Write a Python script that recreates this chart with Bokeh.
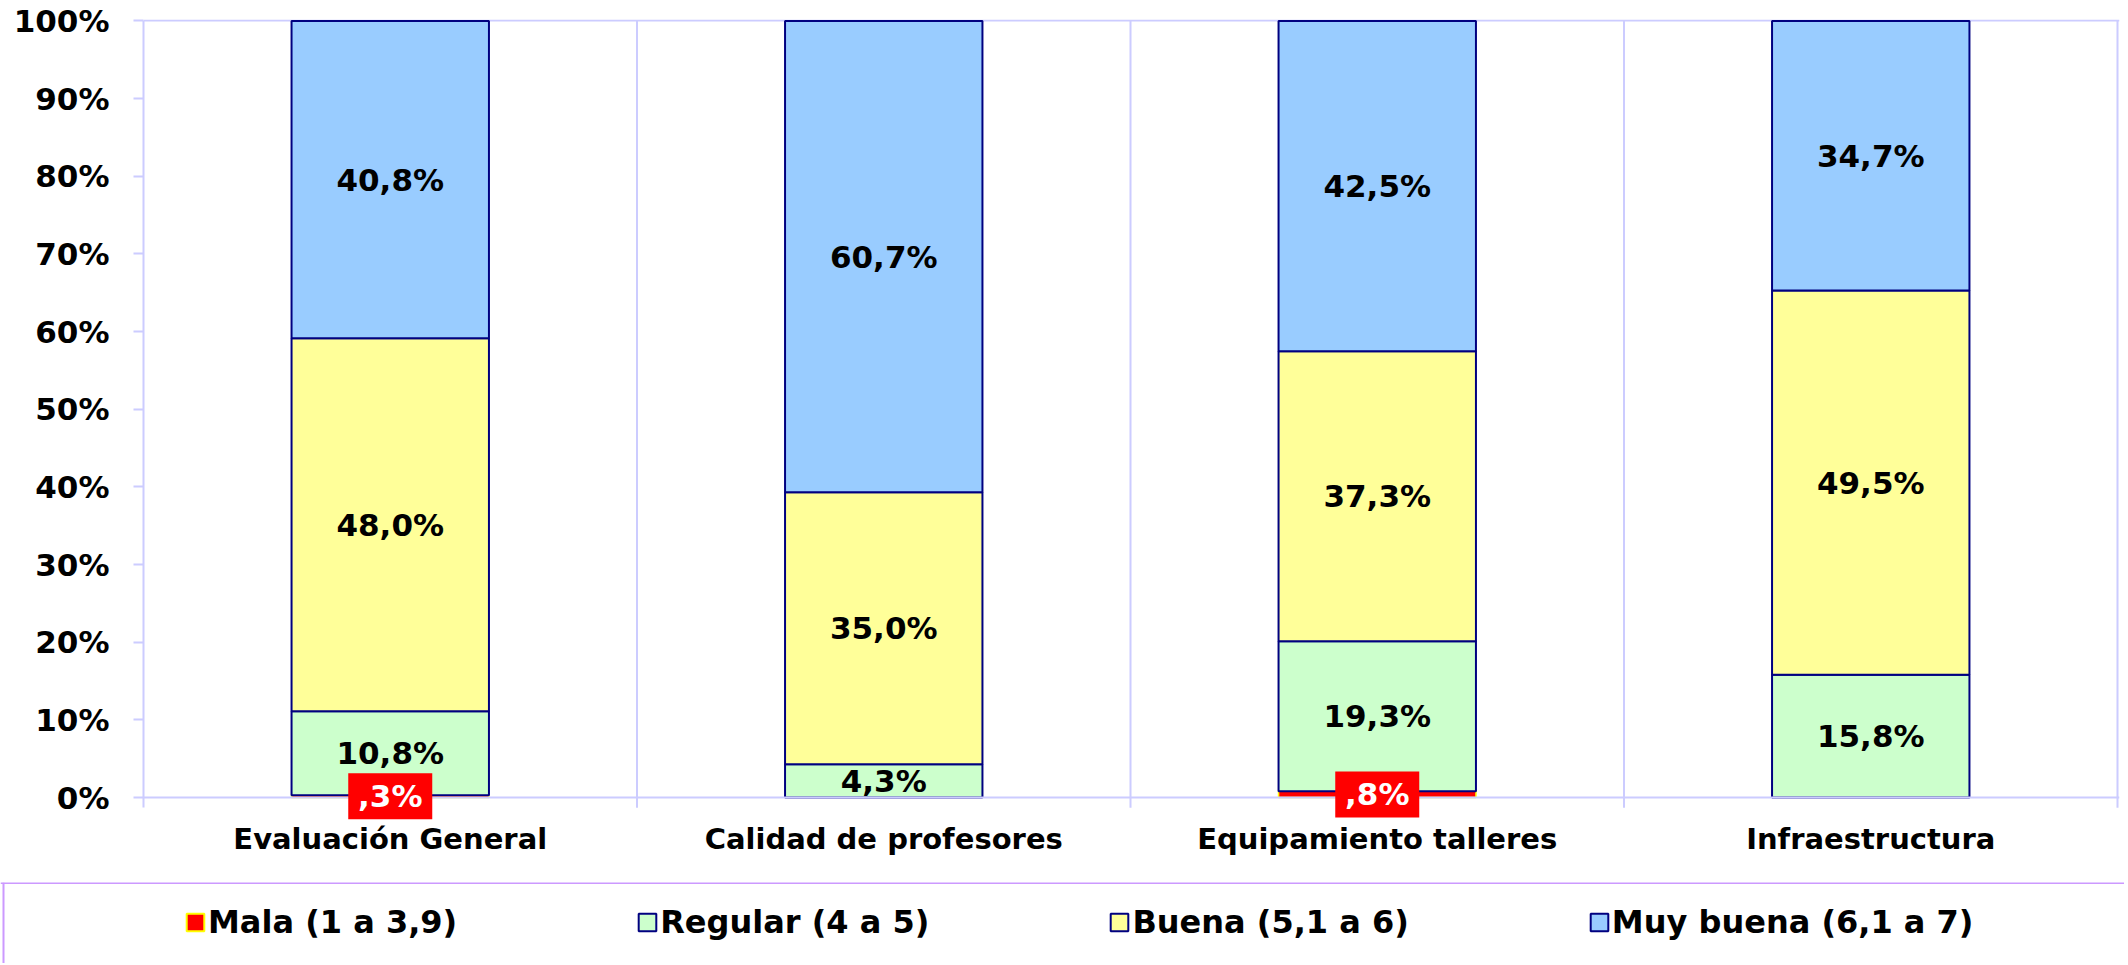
from bokeh.plotting import figure
from bokeh.models import (ColumnDataSource, Range1d, FixedTicker, PrintfTickFormatter,
                          Legend, LegendItem, Span)
from bokeh.layouts import column
from bokeh.embed import file_html
from bokeh.resources import INLINE
from bokeh.core.properties import value

# ---------------- data ----------------
categories = ["Evaluación General", "Calidad de profesores",
              "Equipamiento talleres", "Infraestructura"]
series_names = ["Mala (1 a 3,9)", "Regular (4 a 5)", "Buena (5,1 a 6)", "Muy buena (6,1 a 7)"]
mala = [0.3, 0.0, 0.8, 0.0]
regular = [10.8, 4.3, 19.3, 15.8]
buena = [48.0, 35.0, 37.3, 49.5]
muy_buena = [40.8, 60.7, 42.5, 34.7]
y_ticks = [0, 10, 20, 30, 40, 50, 60, 70, 80, 90, 100]

# ---------------- style ----------------
FILL = ["#ff0000", "#ccffcc", "#ffff99", "#99ccff"]
EDGE = ["#ffff00", "#000080", "#000080", "#000080"]
GRID = "#ccccff"
LEG_BORDER = "#cc99ff"
FONT = "DejaVu Sans"

series = [mala, regular, buena, muy_buena]
n = len(categories)
totals = [sum(s[i] for s in series) for i in range(n)]
xs = [i + 0.5 for i in range(n)]
bounds_x = list(range(1, n + 1))
TICK_EXT = 1.3  # how far boundary ticks reach below 0 (data units)


def fmt(v):
    s = f"{v:.1f}".replace(".", ",")
    if s.startswith("0,"):
        s = s[1:]
    return s + "%"


W = 2124
p = figure(width=W, height=882, x_range=Range1d(0, n * 1976 / 1974), y_range=Range1d(-2.7, 100.19),
           toolbar_location=None, output_backend="svg",
           min_border_left=143, min_border_right=W - 2119, min_border_top=19, min_border_bottom=64)
p.frame_align = False
p.outline_line_color = None
p.background_fill_color = "white"

# grids: only the top line at 100 %
p.xgrid.visible = False
p.ygrid.ticker = FixedTicker(ticks=[y_ticks[-1]])
p.ygrid.grid_line_color = GRID
p.ygrid.grid_line_width = 2

# y axis
ya = p.yaxis[0]
ya.ticker = FixedTicker(ticks=y_ticks)
ya.formatter = PrintfTickFormatter(format="%d%%")
ya.bounds = (-TICK_EXT, y_ticks[-1])
ya.axis_line_color = GRID
ya.axis_line_width = 2
ya.major_tick_line_color = GRID
ya.major_tick_line_width = 2
ya.major_tick_out = 10
ya.major_tick_in = 0
ya.minor_tick_line_color = None
ya.major_label_standoff = 24
ya.major_label_text_font = FONT
ya.major_label_text_font_style = "bold"
ya.major_label_text_font_size = "31px"
ya.major_label_text_color = "black"

# x axis (category labels only)
xa = p.xaxis[0]
xa.ticker = FixedTicker(ticks=xs)
xa.major_label_overrides = {x: c for x, c in zip(xs, categories)}
xa.axis_line_color = None
xa.major_tick_line_color = None
xa.minor_tick_line_color = None
xa.major_tick_out = 0
xa.major_tick_in = 0
xa.major_label_standoff = 3
xa.major_label_text_font = FONT
xa.major_label_text_font_style = "bold"
xa.major_label_text_font_size = "29px"
xa.major_label_text_color = "black"

# category boundary lines (vertical grid, extending slightly below the axis)
p.segment(x0=bounds_x, x1=bounds_x, y0=[-TICK_EXT] * n, y1=[y_ticks[-1]] * n,
          line_color=GRID, line_width=2, level="underlay")

# baseline at 0 %
p.add_layout(Span(location=0, dimension="width", line_color=GRID, line_width=2))

# stacked bars
sources = []
bottom = [0.0] * n
for k, s in enumerate(series):
    rows = [i for i in range(n) if s[i] > 0]
    src = ColumnDataSource(dict(
        x=[xs[i] for i in rows],
        b=[bottom[i] for i in rows],
        t=[bottom[i] + s[i] / totals[i] * 100 for i in rows],
        ym=[bottom[i] + s[i] / totals[i] * 50 for i in rows],
        lab=[fmt(s[i]) for i in rows],
    ))
    sources.append(src)
    p.vbar(x="x", bottom="b", top="t", width=0.4, source=src,
           fill_color=FILL[k], line_color=EDGE[k], line_width=2 if k else 1.5)
    for i in range(n):
        bottom[i] += s[i] / totals[i] * 100

# labels
for k, src in enumerate(sources):
    if k == 0:
        p.rect(x="x", y="ym", width=84, height=46, width_units="screen", height_units="screen",
               source=src, fill_color="#ff0000", line_color=None, level="overlay")
        tc = "white"
    else:
        tc = "black"
    p.text(x="x", y="ym", text="lab", source=src, text_align="center", text_baseline="middle",
           text_font=value(FONT), text_font_style="bold", text_font_size="31px", text_color=tc,
           level="overlay")

# legend panel
LH = 81
leg = figure(width=W, height=LH, x_range=Range1d(0, W), y_range=Range1d(0, LH),
             toolbar_location=None, output_backend="svg",
             x_axis_location=None, y_axis_location=None, min_border=0)
leg.frame_align = False
leg.outline_line_color = None
for g in leg.grid:
    g.visible = False
leg.add_layout(Span(location=3, dimension="height", line_color=LEG_BORDER, line_width=2))
leg.add_layout(Span(location=LH - 0.5, dimension="width", line_color=LEG_BORDER, line_width=2))

items = []
for k, name in enumerate(series_names):
    r = leg.vbar(x="x", bottom="b", top="t", width=0.4, source=sources[k],
                 fill_color=FILL[k], line_color=EDGE[k], line_width=2, visible=False)
    items.append(LegendItem(label=name, renderers=[r]))

legend = Legend(items=items, location=(184, 22), orientation="horizontal", spacing=179,
                glyph_width=22, glyph_height=22, label_standoff=2, padding=0, margin=0,
                border_line_color=None, background_fill_alpha=0,
                label_text_font=FONT, label_text_font_style="bold", label_text_font_size="32px",
                label_text_color="black", label_text_baseline="alphabetic")
leg.add_layout(legend)

layout = column(p, leg, spacing=0)
open("out.html", "w").write(file_html(layout, INLINE))
